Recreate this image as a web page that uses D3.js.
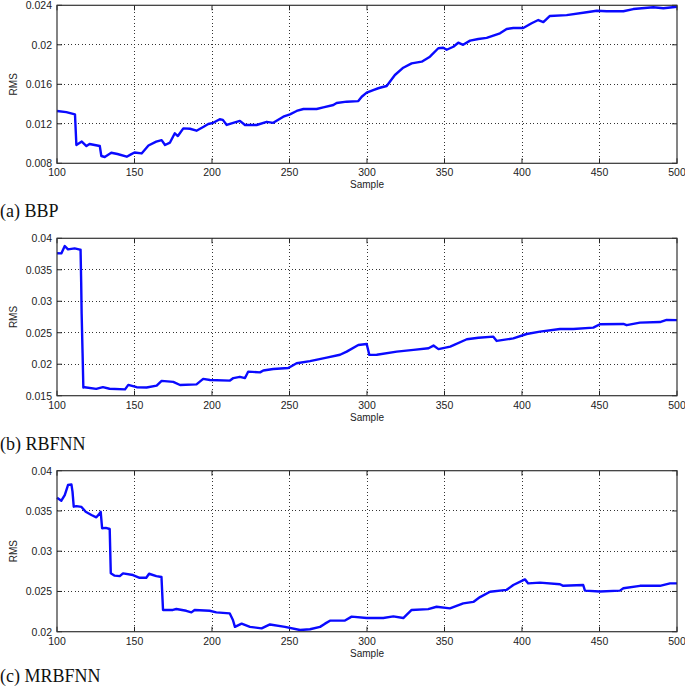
<!DOCTYPE html>
<html>
<head>
<meta charset="utf-8">
<script src="https://cdn.jsdelivr.net/npm/d3@7"></script>
<style>
    body { margin: 0; background: #fff; }
    svg { display: block; }
</style>
</head>
<body>
<script>
let xTicks = [100, 150, 200, 250, 300, 350, 400, 450, 500]

let bbpSample = [100, 106, 111.6, 112.5, 116, 119, 121, 127.6, 128.6, 130.8, 135, 139, 145, 147.7, 150, 154.6, 159, 164, 167.5, 169.7, 172.9, 176, 178, 181.5, 185.8, 190, 194.6, 197.6, 200.8, 205, 207, 209.5, 213.7, 218, 221.3, 228.8, 235.3, 239.5, 246, 250.3, 254.6, 259, 267.5, 271.8, 278.3, 280.4, 286.9, 294.4, 296.6, 299.8, 304, 307.3, 309.5, 312.7, 318, 323.4, 328.8, 335.3, 340.6, 346, 349.2, 351.4, 355.7, 358.9, 362, 366.5, 371.8, 377.2, 385.8, 390.1, 394.4, 400.8, 406.2, 410.5, 413.8, 418, 428.8, 441.7, 448.2, 454.6, 465.4, 471.8, 484.7, 491.2, 500]
let bbpRms = [0.0133, 0.01318, 0.01296, 0.00985, 0.0102, 0.00975, 0.00995, 0.00975, 0.00874, 0.00864, 0.00907, 0.00894, 0.00867, 0.0089, 0.0091, 0.009, 0.0098, 0.0102, 0.01035, 0.00985, 0.0101, 0.01104, 0.01076, 0.01154, 0.0115, 0.0113, 0.0117, 0.01198, 0.0121, 0.01246, 0.0124, 0.01188, 0.0121, 0.0123, 0.01188, 0.01188, 0.0122, 0.0121, 0.01272, 0.01296, 0.0133, 0.0135, 0.0135, 0.01367, 0.0139, 0.0141, 0.01424, 0.0143, 0.01474, 0.01515, 0.01542, 0.0156, 0.0157, 0.01583, 0.01694, 0.01768, 0.01812, 0.01829, 0.0188, 0.01965, 0.0197, 0.0195, 0.0198, 0.02021, 0.02, 0.02042, 0.02059, 0.0207, 0.02116, 0.0216, 0.0217, 0.0217, 0.02218, 0.02251, 0.0223, 0.02292, 0.023, 0.02329, 0.02345, 0.0234, 0.0234, 0.02362, 0.0238, 0.0237, 0.02386]

let rbfSample = [100, 102.8, 105, 107.1, 111.4, 114.8, 115.2, 115.6, 115.9, 116.5, 117, 117.8, 125.3, 129.6, 133.9, 143.9, 146, 151.4, 157.8, 164.3, 167.5, 175, 179.4, 190, 194.3, 198.7, 211.6, 213.8, 218, 221.3, 223.4, 231, 233.1, 239.5, 249.2, 254.6, 263.2, 274, 282.6, 286.9, 294.4, 299.8, 301.5, 306.3, 319.2, 330, 339.7, 342.9, 346.1, 353.7, 364.4, 371.9, 381.5, 383.7, 394.4, 403, 411.6, 424.5, 433.1, 446, 450.3, 465.4, 467.5, 476.1, 489, 493.3, 500]
let rbfRms = [0.03762, 0.0376, 0.03878, 0.03825, 0.0384, 0.0382, 0.0382, 0.033, 0.028, 0.02175, 0.0163, 0.01635, 0.01608, 0.01635, 0.0161, 0.016, 0.01672, 0.01635, 0.0163, 0.0166, 0.01735, 0.0172, 0.0167, 0.0168, 0.01767, 0.0175, 0.0174, 0.0178, 0.018, 0.0178, 0.01883, 0.0187, 0.019, 0.01925, 0.0194, 0.02016, 0.0205, 0.02105, 0.0215, 0.022, 0.02306, 0.02322, 0.02148, 0.0215, 0.022, 0.02227, 0.02254, 0.02296, 0.0224, 0.0228, 0.02397, 0.0242, 0.02438, 0.0237, 0.0241, 0.0248, 0.02518, 0.0256, 0.0256, 0.02581, 0.02635, 0.0264, 0.0262, 0.0266, 0.0267, 0.02703, 0.027]

let mrbfSample = [100, 102.8, 105, 107.1, 109.3, 110, 110.8, 112.5, 115.8, 118.5, 122.2, 125.4, 127.6, 128.2, 129.1, 131.5, 134, 134.7, 137.2, 140.5, 142.6, 149, 153.3, 157.6, 159.4, 164.1, 167.4, 168.4, 174.8, 177, 183.4, 186.7, 188.8, 198.5, 202.8, 211.4, 213.5, 214.8, 219.1, 224.5, 232, 237.4, 247.1, 256.8, 263.2, 269.7, 272.9, 276.1, 285.8, 290.1, 299.8, 310.5, 317, 323.4, 328.8, 339.5, 344.9, 353.5, 362.1, 368.6, 372.9, 379.4, 390.1, 394.4, 401.9, 404, 411.6, 424.5, 426.6, 439.5, 440.6, 450.3, 463.2, 465.4, 476.1, 489, 495.5, 500]
let mrbfRms = [0.03665, 0.03627, 0.03698, 0.03822, 0.0383, 0.0374, 0.03553, 0.0356, 0.0355, 0.0349, 0.0345, 0.03421, 0.0347, 0.0349, 0.03285, 0.0329, 0.03276, 0.02725, 0.02696, 0.0269, 0.02725, 0.02704, 0.0267, 0.0267, 0.0272, 0.0269, 0.0268, 0.0227, 0.0227, 0.02282, 0.0226, 0.0224, 0.0227, 0.0226, 0.0224, 0.02228, 0.02145, 0.0206, 0.021, 0.0206, 0.02042, 0.0209, 0.0206, 0.02021, 0.0203, 0.0206, 0.021, 0.02137, 0.0214, 0.02187, 0.0217, 0.0217, 0.0219, 0.0217, 0.0227, 0.0228, 0.0231, 0.0229, 0.02352, 0.0237, 0.0243, 0.02497, 0.0252, 0.0258, 0.0265, 0.026, 0.0261, 0.0259, 0.0257, 0.0258, 0.0251, 0.025, 0.0251, 0.0254, 0.0257, 0.0257, 0.026, 0.026]

let bbpTicks = [0.008, 0.012, 0.016, 0.02, 0.024]
let bbpTickLabels = ['0.008', '0.012', '0.016', '0.02', '0.024']
let rbfTicks = [0.015, 0.02, 0.025, 0.03, 0.035, 0.04]
let rbfTickLabels = ['0.015', '0.02', '0.025', '0.03', '0.035', '0.04']
let mrbfTicks = [0.02, 0.025, 0.03, 0.035, 0.04]
let mrbfTickLabels = ['0.02', '0.025', '0.03', '0.035', '0.04']

let captions = ['(a) BBP', '(b) RBFNN', '(c) MRBFNN']

{
    let width = 685
    let height = 688
    let svg = d3.select('body').append('svg')
        .attr('width', width)
        .attr('height', height)

    let panels = [
        {xs: bbpSample, ys: bbpRms, ticks: bbpTicks, labels: bbpTickLabels, top: 5.3, bottom: 163.3, cap: 217},
        {xs: rbfSample, ys: rbfRms, ticks: rbfTicks, labels: rbfTickLabels, top: 238.3, bottom: 395.7, cap: 450},
        {xs: mrbfSample, ys: mrbfRms, ticks: mrbfTicks, labels: mrbfTickLabels, top: 470.7, bottom: 631.7, cap: 682}
    ]
    let left = 57
    let right = 677
    let tickLen = 5

    panels.forEach((p, k) => {
        let x = d3.scaleLinear().domain([100, 500]).range([left, right])
        let y = d3.scaleLinear().domain(d3.extent(p.ticks)).range([p.bottom, p.top])
        let g = svg.append('g')

        // grid
        g.selectAll('line.vgrid').data(xTicks.slice(1, -1))
            .enter().append('line')
            .attr('x1', d => x(d)).attr('x2', d => x(d))
            .attr('y1', p.top).attr('y2', p.bottom)
            .attr('stroke', '#333').attr('stroke-width', 1)
            .attr('stroke-dasharray', '1,2.5')
            .attr('shape-rendering', 'crispEdges')
        g.selectAll('line.hgrid').data(p.ticks.slice(1, -1))
            .enter().append('line')
            .attr('x1', left).attr('x2', right)
            .attr('y1', d => y(d)).attr('y2', d => y(d))
            .attr('stroke', '#333').attr('stroke-width', 1)
            .attr('stroke-dasharray', '1,2.5')
            .attr('shape-rendering', 'crispEdges')

        // ticks pointing inward on all four sides
        xTicks.forEach(t => {
            g.append('line').attr('x1', x(t)).attr('x2', x(t))
                .attr('y1', p.bottom).attr('y2', p.bottom - tickLen)
                .attr('stroke', '#222')
            g.append('line').attr('x1', x(t)).attr('x2', x(t))
                .attr('y1', p.top).attr('y2', p.top + tickLen)
                .attr('stroke', '#222')
        })
        p.ticks.forEach(t => {
            g.append('line').attr('x1', left).attr('x2', left + tickLen)
                .attr('y1', y(t)).attr('y2', y(t))
                .attr('stroke', '#222')
            g.append('line').attr('x1', right).attr('x2', right - tickLen)
                .attr('y1', y(t)).attr('y2', y(t))
                .attr('stroke', '#222')
        })

        let line = d3.line()
            .x(i => x(p.xs[i]))
            .y(i => y(p.ys[i]))
        g.append('path')
            .attr('d', line(d3.range(p.xs.length)))
            .attr('stroke', '#0a0aff')
            .attr('stroke-width', 2.4)
            .attr('stroke-linejoin', 'round')
            .attr('fill', 'none')

        g.append('rect')
            .attr('x', left).attr('y', p.top)
            .attr('width', right - left).attr('height', p.bottom - p.top)
            .attr('stroke', '#333').attr('stroke-width', 1.2)
            .attr('fill', 'none')

        g.selectAll('text.xt').data(xTicks)
            .enter().append('text')
            .attr('x', d => x(d)).attr('y', p.bottom + 13)
            .attr('text-anchor', 'middle')
            .attr('font-family', 'Liberation Sans, Arial, sans-serif')
            .attr('font-size', 10.5).attr('fill', '#222')
            .text(d => d)
        g.selectAll('text.yt').data(p.ticks)
            .enter().append('text')
            .attr('x', left - 5).attr('y', d => y(d) + 3.8)
            .attr('text-anchor', 'end')
            .attr('font-family', 'Liberation Sans, Arial, sans-serif')
            .attr('font-size', 10.5).attr('fill', '#222')
            .text((d, i) => p.labels[i])

        g.append('text')
            .attr('x', (left + right) / 2).attr('y', p.bottom + 25)
            .attr('text-anchor', 'middle')
            .attr('font-family', 'Liberation Sans, Arial, sans-serif')
            .attr('font-size', 10).attr('fill', '#222')
            .text('Sample')
        let cy = (p.top + p.bottom) / 2
        g.append('text')
            .attr('transform', `translate(16.5,${cy}) rotate(-90)`)
            .attr('text-anchor', 'middle')
            .attr('font-family', 'Liberation Sans, Arial, sans-serif')
            .attr('font-size', 10).attr('fill', '#222')
            .text('RMS')

        svg.append('text')
            .attr('x', 0).attr('y', p.cap)
            .attr('font-family', 'Liberation Serif, Times New Roman, serif')
            .attr('font-size', 18).attr('fill', '#111')
            .text(captions[k])
    })
}
</script>
</body>
</html>
